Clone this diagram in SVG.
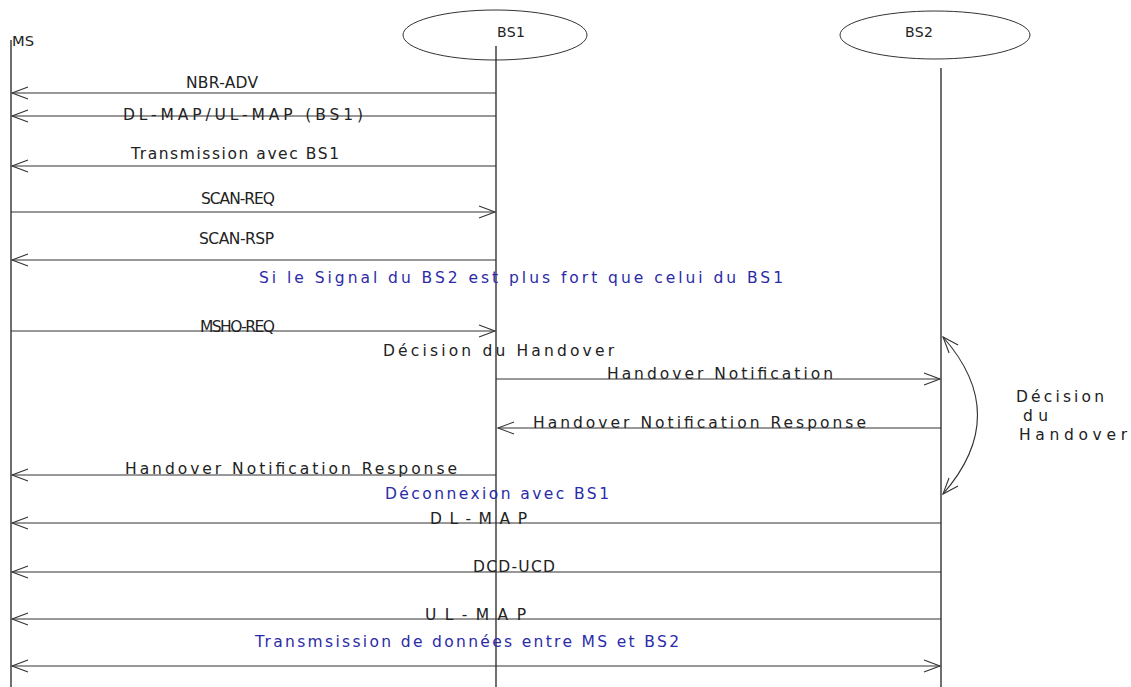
<svg xmlns="http://www.w3.org/2000/svg" width="1131" height="687" viewBox="0 0 1131 687">
<style>
.bg{fill:#ffffff}
.life{stroke:#222;stroke-width:1.3;fill:none}
.node{fill:none;stroke:#333;stroke-width:1}
.msg{stroke:#333;stroke-width:1.1;fill:none}
.lbl{font-family:"DejaVu Sans","Liberation Sans",sans-serif;font-size:15.5px;fill:#222}
.sm{font-size:14px}
.note{font-family:"DejaVu Sans","Liberation Sans",sans-serif;font-size:15.5px;fill:#2b2ba8}
</style>
<defs>
<marker id="tip" markerWidth="20" markerHeight="16" refX="18" refY="8" orient="auto-start-reverse" markerUnits="userSpaceOnUse">
<path d="M2,2 L18,8 L2,14" fill="none" stroke="#333" stroke-width="1.1"/>
</marker>
</defs>
<rect class="bg" x="0" y="0" width="1131" height="687"/>

<g id="node-MS">
<line class="life" x1="11" y1="40" x2="11" y2="687"/>
<text class="lbl sm" x="12" y="46" textLength="22" lengthAdjust="spacingAndGlyphs">MS</text>
</g>
<g id="node-BS1">
<ellipse class="node" cx="495" cy="35" rx="92" ry="25"/>
<line class="life" x1="496" y1="46" x2="496" y2="687"/>
<text class="lbl sm" x="497" y="37" textLength="28" lengthAdjust="spacing">BS1</text>
</g>
<g id="node-BS2">
<ellipse class="node" cx="935" cy="35" rx="95" ry="24"/>
<line class="life" x1="941" y1="68" x2="941" y2="687"/>
<text class="lbl sm" x="905" y="37" textLength="28" lengthAdjust="spacing">BS2</text>
</g>

<g id="connectors">
<line class="msg" x1="496" y1="93" x2="12" y2="93" marker-end="url(#tip)"/>
<line class="msg" x1="496" y1="116" x2="12" y2="116" marker-end="url(#tip)"/>
<line class="msg" x1="496" y1="166" x2="12" y2="166" marker-end="url(#tip)"/>
<line class="msg" x1="11" y1="212" x2="495" y2="212" marker-end="url(#tip)"/>
<line class="msg" x1="496" y1="260" x2="12" y2="260" marker-end="url(#tip)"/>
<line class="msg" x1="11" y1="331" x2="495" y2="331" marker-end="url(#tip)"/>
<line class="msg" x1="496" y1="379" x2="940" y2="379" marker-end="url(#tip)"/>
<line class="msg" x1="941" y1="428" x2="498" y2="428" marker-end="url(#tip)"/>
<line class="msg" x1="496" y1="475" x2="12" y2="475" marker-end="url(#tip)"/>
<line class="msg" x1="941" y1="523" x2="12" y2="523" marker-end="url(#tip)"/>
<line class="msg" x1="941" y1="572" x2="12" y2="572" marker-end="url(#tip)"/>
<line class="msg" x1="941" y1="619" x2="12" y2="619" marker-end="url(#tip)"/>
<line class="msg" x1="12" y1="666" x2="940" y2="666" marker-start="url(#tip)" marker-end="url(#tip)"/>
<path class="msg" d="M943,337 Q1012,415 943,494" marker-start="url(#tip)" marker-end="url(#tip)"/>
</g>

<g id="labels">
<text class="lbl" x="186" y="88" textLength="72" lengthAdjust="spacing">NBR-ADV</text>
<text class="lbl" x="123" y="120" textLength="240" lengthAdjust="spacing">DL-MAP/UL-MAP (BS1)</text>
<text class="lbl" x="131" y="159" textLength="208" lengthAdjust="spacing">Transmission avec BS1</text>
<text class="lbl" x="201" y="204" textLength="74" lengthAdjust="spacing">SCAN-REQ</text>
<text class="lbl" x="199" y="244" textLength="75" lengthAdjust="spacing">SCAN-RSP</text>
<text class="note" x="259" y="283" textLength="524" lengthAdjust="spacing">Si le Signal du BS2 est plus fort que celui du BS1</text>
<text class="lbl" x="200" y="332" textLength="75" lengthAdjust="spacing">MSHO-REQ</text>
<text class="lbl" x="383" y="356" textLength="231" lengthAdjust="spacing">Décision du Handover</text>
<text class="lbl" x="607" y="379" textLength="226" lengthAdjust="spacing">Handover Notification</text>
<text class="lbl" x="533" y="428" textLength="333" lengthAdjust="spacing">Handover Notification Response</text>
<text class="lbl" x="125" y="474" textLength="332" lengthAdjust="spacing">Handover Notification Response</text>
<text class="note" x="385" y="499" textLength="224" lengthAdjust="spacing">Déconnexion avec BS1</text>
<text class="lbl" x="430" y="524" textLength="97" lengthAdjust="spacing">DL-MAP</text>
<text class="lbl" x="473" y="572" textLength="82" lengthAdjust="spacing">DCD-UCD</text>
<text class="lbl" x="425" y="620" textLength="101" lengthAdjust="spacing">UL-MAP</text>
<text class="note" x="255" y="647" textLength="424" lengthAdjust="spacing">Transmsission de données entre MS et BS2</text>
<text class="lbl" x="1016" y="402" textLength="88" lengthAdjust="spacing">Décision</text>
<text class="lbl" x="1023" y="421" textLength="25" lengthAdjust="spacing">du</text>
<text class="lbl" x="1019" y="440" textLength="108" lengthAdjust="spacing">Handover</text>
</g>
</svg>
